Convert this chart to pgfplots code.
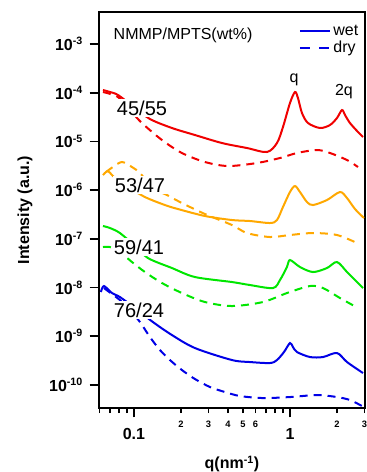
\documentclass[border=0pt]{standalone}
\usepackage{fontspec}
\setmainfont{Liberation Sans}
\usepackage{pgfplots}
\pgfplotsset{compat=1.18}
\definecolor{cred}{RGB}{240,0,0}
\definecolor{corange}{RGB}{255,168,0}
\definecolor{cgreen}{RGB}{0,230,0}
\definecolor{cblue}{RGB}{0,0,230}
\newcommand\yl[1]{\textbf{10}\textsuperscript{\textbf{-#1}}}
\begin{document}
\begin{tikzpicture}
\begin{axis}[
  at={(0,0)}, anchor=south west,
  scale only axis, width=199.5pt, height=297pt,
  xmode=log, ymode=log,
  xmin=0.0597, xmax=3.026, ymin=3.36e-11, ymax=4.54e-3,
  xtick={0.1,1}, xticklabels={0.1,1},
  minor xtick={0.06,0.07,0.08,0.09,0.2,0.3,0.4,0.5,0.6,0.7,0.8,0.9,2,3},
  extra x ticks={0.2,0.3,0.4,0.5,0.6,2,3},
  extra x tick labels={2,3,4,5,6,2,3},
  extra x tick style={major tick length=0pt, xticklabel style={font=\fontsize{7}{8}\selectfont\bfseries, yshift=-2pt}},
  ytick={1e-10,1e-9,1e-8,1e-7,1e-6,1e-5,1e-4,1e-3},
  yticklabels={\yl{10},\yl{9},\yl{8},\yl{7},\yl{6},\yl{5},\yl{4},\yl{3}},
  yminorticks=false,
  tick align=outside, major tick length=7pt, minor tick length=3.75pt,
  xtick pos=left, ytick pos=left,
  every tick/.style={black, line width=1.2pt},
  axis line style={line width=1.3pt},
  xticklabel style={font=\fontsize{12}{14}\selectfont\bfseries, yshift=-4.5pt},
  yticklabel style={font=\fontsize{12}{14}\selectfont, xshift=-1.5pt},
  xlabel={\textbf{q(nm\textsuperscript{-1})}},
  ylabel={\textbf{Intensity (a.u.)}},
  every axis x label/.style={at={(rel axis cs:0.5,-0.1414)}, anchor=center, font=\fontsize{12}{14}\selectfont},
  every axis y label/.style={at={(rel axis cs:-0.278,0.5)}, anchor=center, rotate=90, font=\fontsize{12}{14}\selectfont},
  legend style={at={(rel axis cs:0.75,0.975)}, anchor=north west, draw=none, fill=none,
    font=\fontsize{12}{14}\selectfont, row sep=-1pt, inner sep=0pt, nodes={inner sep=2pt, anchor=west}},
  legend cell align=left,
  legend image code/.code={\draw[#1] (0pt,0pt) -- (22.5pt,0pt);},
  every axis plot/.append style={line width=1.5pt},
]
\addlegendimage{cblue, line width=1.5pt}
\addlegendentry{wet}
\addlegendimage{cblue, line width=1.5pt, dash pattern=on 7.5pt off 7pt}
\addlegendentry{dry}

% 45/55
\addplot[cred, smooth, forget plot] coordinates {(0.0633,1.136e-4) (0.0702,1.034e-4) (0.0790,8.97e-5) (0.1000,5.09e-5) (0.1266,2.884e-5) (0.1752,1.885e-5) (0.2460,1.353e-5) (0.3664,9.27e-6) (0.5301,7.32e-6) (0.7119,6.06e-6) (0.8254,9.27e-6) (0.9018,1.975e-5) (1.0,6.14e-5) (1.0766,1.034e-4) (1.1253,7.78e-5) (1.1937,3.83e-5) (1.3047,2.385e-5) (1.5574,1.885e-5) (1.8049,2.172e-5) (2.0010,3.023e-5) (2.1544,4.413e-5) (2.2525,3.484e-5) (2.4245,2.385e-5) (2.7290,1.560e-5) (2.9376,1.231e-5)};
\addplot[cred, smooth, dash pattern=on 6pt off 4.5pt, forget plot] coordinates {(0.0633,1.034e-4) (0.0790,8.16e-5) (0.0943,4.41e-5) (0.1125,2.385e-5) (0.1512,1.068e-5) (0.2030,5.78e-6) (0.2851,3.776e-6) (0.4004,3.125e-6) (0.6143,3.601e-6) (0.8628,4.56e-6) (1.1089,5.78e-6) (1.4900,6.66e-6) (1.8049,5.78e-6) (2.3198,4.15e-6) (2.7290,2.98e-6)};
% 53/47
\addplot[corange, smooth, forget plot] coordinates {(0.0633,2.04e-6) (0.0681,2.467e-6) (0.0733,1.948e-6) (0.0876,1.272e-6) (0.1176,7.22e-7) (0.1580,4.94e-7) (0.1914,4.09e-7) (0.2851,2.94e-7) (0.4248,2.432e-7) (0.5540,2.32e-7) (0.7443,2.111e-7) (0.8254,2.432e-7) (0.9018,4.50e-7) (1.0,9.14e-7) (1.0766,1.214e-6) (1.1590,9.14e-7) (1.2853,5.69e-7) (1.4043,4.94e-7) (1.7267,6.26e-7) (2.0914,9.14e-7) (2.3198,6.88e-7) (2.6102,4.09e-7) (2.9812,2.674e-7)};
\addplot[corange, smooth, dash pattern=on 6pt off 4.5pt, forget plot] coordinates {(0.0662,2.353e-6) (0.0733,2.98e-6) (0.0838,3.776e-6) (0.0971,2.98e-6) (0.1093,2.244e-6) (0.1323,1.104e-6) (0.1627,7.93e-7) (0.2030,5.43e-7) (0.2851,3.23e-7) (0.4248,1.92e-7) (0.5301,1.315e-7) (0.7443,1.089e-7) (1.0,1.197e-7) (1.4043,1.315e-7) (2.0010,1.197e-7) (2.6889,8.20e-8)};
% 59/41
\addplot[cgreen, smooth, forget plot] coordinates {(0.0633,1.831e-7) (0.0702,1.666e-7) (0.0813,1.315e-7) (0.1,7.46e-8) (0.1229,4.03e-8) (0.1752,2.514e-8) (0.2460,1.643e-8) (0.4248,1.297e-8) (0.5540,1.125e-8) (0.7779,9.76e-9) (0.8628,1.425e-8) (0.9567,2.636e-8) (1.0,3.67e-8) (1.1590,2.636e-8) (1.4043,2.081e-8) (1.7267,2.514e-8) (2.0010,3.34e-8) (2.3198,2.081e-8) (2.6102,1.425e-8) (2.9376,9.76e-9)};
\addplot[cgreen, smooth, dash pattern=on 6pt off 4.5pt, forget plot] coordinates {(0.0633,6.78e-8) (0.0702,6.78e-8) (0.0813,5.36e-8) (0.0971,3.34e-8) (0.1176,2.081e-8) (0.1512,1.237e-8) (0.2030,7.71e-9) (0.2851,5.04e-9) (0.4248,4.17e-9) (0.6713,5.04e-9) (0.9567,7.71e-9) (1.3435,1.074e-8) (1.6276,9.76e-9) (2.0914,6.09e-9) (2.7290,3.79e-9)};
% 76/24
\addplot[cblue, smooth, forget plot] coordinates {(0.0614,8.08e-9) (0.0642,1.074e-8) (0.0723,7.71e-9) (0.0813,6.38e-9) (0.1015,3.79e-9) (0.1323,1.957e-9) (0.1752,1.058e-9) (0.2460,5.72e-10) (0.4248,3.245e-10) (0.5540,2.953e-10) (0.7443,2.817e-10) (0.8254,3.245e-10) (0.9153,4.74e-10) (1.0,7.25e-10) (1.0452,6.0e-10) (1.1089,4.74e-10) (1.3435,3.74e-10) (1.6276,3.74e-10) (2.0010,4.52e-10) (2.3198,2.953e-10) (2.9376,1.755e-10)};
\addplot[cblue, smooth, dash pattern=on 6pt off 4.5pt, forget plot] coordinates {(0.0642,9.76e-9) (0.0723,7.35e-9) (0.0813,5.54e-9) (0.0943,3.45e-9) (0.1093,1.957e-9) (0.1266,9.63e-10) (0.1468,5.21e-10) (0.1701,3.245e-10) (0.2030,2.023e-10) (0.2460,1.322e-10) (0.3070,9.06e-11) (0.3831,7.15e-11) (0.4779,5.92e-11) (0.6713,5.38e-11) (1.0,5.64e-11) (1.4900,6.20e-11) (2.0010,5.64e-11) (2.4245,4.90e-11) (2.8943,3.69e-11)};

\node[anchor=west, font=\fontsize{12}{14}\selectfont] at (rel axis cs:0.0376,0.942) {NMMP/MPTS(wt\%)};
\node[fill=white, inner sep=1.5pt, font=\fontsize{15}{18}\selectfont] at (rel axis cs:0.1617,0.7576) {45/55};
\node[fill=white, inner sep=1.5pt, font=\fontsize{15}{18}\selectfont] at (rel axis cs:0.1541,0.5631) {53/47};
\node[fill=white, inner sep=1.5pt, font=\fontsize{15}{18}\selectfont] at (rel axis cs:0.1504,0.4066) {59/41};
\node[fill=white, inner sep=1.5pt, font=\fontsize{15}{18}\selectfont] at (rel axis cs:0.1504,0.2475) {76/24};
\node[font=\fontsize{12}{14}\selectfont] at (rel axis cs:0.733,0.8295) {q};
\node[font=\fontsize{12}{14}\selectfont] at (rel axis cs:0.921,0.798) {2q};
\end{axis}
\pgfresetboundingbox
\path (-74.25pt,-48pt) rectangle (201pt,306pt);
\end{tikzpicture}
\end{document}
